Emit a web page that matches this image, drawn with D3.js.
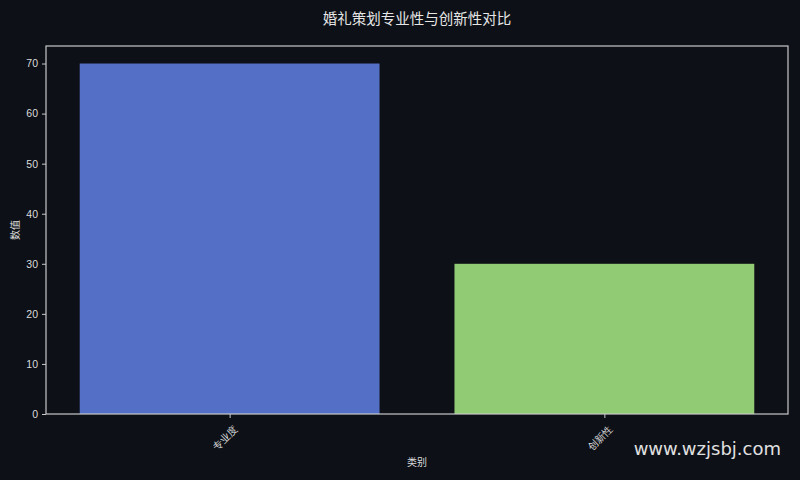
<!DOCTYPE html>
<html>
<head>
<meta charset="utf-8">
<script src="https://cdn.jsdelivr.net/npm/d3@7"></script>
<style>
  html, body { margin: 0; padding: 0; background: #0d1017; }
  svg { display: block; font-family: "Noto Sans CJK SC", "DejaVu Sans", sans-serif; }
</style>
</head>
<body>
<div id="chart"></div>
<script>
// data
const categories = ["专业度", "创新性"];
const values = [70, 30];
const barColors = ["#5470c6", "#91cc75"];
const yTicks = [0, 10, 20, 30, 40, 50, 60, 70];

const width = 800, height = 480;
const margin = { top: 46, right: 12, bottom: 66, left: 46 };

const svg = d3.select("#chart").append("svg")
  .attr("width", width)
  .attr("height", height);

svg.append("rect").attr("width", width).attr("height", height).attr("fill", "#0d1017");

// scales (bars 0.8 wide at integer positions, 5% margins)
const xScale = d3.scaleLinear()
  .domain([-0.49, categories.length - 1 + 0.49])
  .range([margin.left, width - margin.right]);

const yScale = d3.scaleLinear()
  .domain([0, d3.max(values) * 1.05])
  .range([height - margin.bottom, margin.top]);

// bars
svg.selectAll("rect.bar")
  .data(values)
  .join("rect")
  .attr("class", "bar")
  .attr("x", (d, i) => xScale(i - 0.4))
  .attr("y", d => yScale(d))
  .attr("width", xScale(0.4) - xScale(-0.4))
  .attr("height", d => yScale(0) - yScale(d))
  .attr("fill", (d, i) => barColors[i]);

// frame
svg.append("rect")
  .attr("x", margin.left)
  .attr("y", margin.top)
  .attr("width", width - margin.right - margin.left)
  .attr("height", height - margin.bottom - margin.top)
  .attr("fill", "none")
  .attr("stroke", "#c8c8c8")
  .attr("stroke-width", 1.2);

// y axis
const yAxis = d3.axisLeft(yScale).tickValues(yTicks).tickSize(4).tickPadding(4);
const gy = svg.append("g")
  .attr("transform", `translate(${margin.left},0)`)
  .call(yAxis);
gy.select(".domain").remove();
gy.selectAll("line").attr("stroke", "#c8c8c8");
gy.selectAll("text").attr("fill", "#dcdcdc").style("font-size", "10.5px")
  .style("font-family", "'Liberation Sans', Arial, sans-serif");

// x axis
const xAxis = d3.axisBottom(xScale)
  .tickValues(d3.range(categories.length))
  .tickFormat(i => categories[i])
  .tickSize(4).tickPadding(2);
const gx = svg.append("g")
  .attr("transform", `translate(0,${height - margin.bottom})`)
  .call(xAxis);
gx.select(".domain").remove();
gx.selectAll("line").attr("stroke", "#c8c8c8");
gx.selectAll("text")
  .attr("fill", "#dcdcdc")
  .style("font-size", "10px")
  .attr("text-anchor", "end")
  .attr("dy", "0.7em")
  .attr("transform", "translate(-1,7) rotate(-45)");

// title and labels
svg.append("text")
  .attr("x", 417).attr("y", 24)
  .attr("text-anchor", "middle")
  .attr("fill", "#e6e6e6")
  .style("font-size", "14.5px")
  .text("婚礼策划专业性与创新性对比");

svg.append("text")
  .attr("x", 417).attr("y", 466)
  .attr("text-anchor", "middle")
  .attr("fill", "#dcdcdc")
  .style("font-size", "10px")
  .text("类别");

svg.append("text")
  .attr("transform", "translate(19,230) rotate(-90)")
  .attr("text-anchor", "middle")
  .attr("fill", "#dcdcdc")
  .style("font-size", "10px")
  .text("数值");

// watermark
svg.append("text")
  .attr("x", 781).attr("y", 455)
  .attr("text-anchor", "end")
  .attr("fill", "#e0e0e0")
  .style("font-size", "18px")
  .style("font-family", "'DejaVu Sans', sans-serif")
  .text("www.wzjsbj.com");
</script>
</body>
</html>
